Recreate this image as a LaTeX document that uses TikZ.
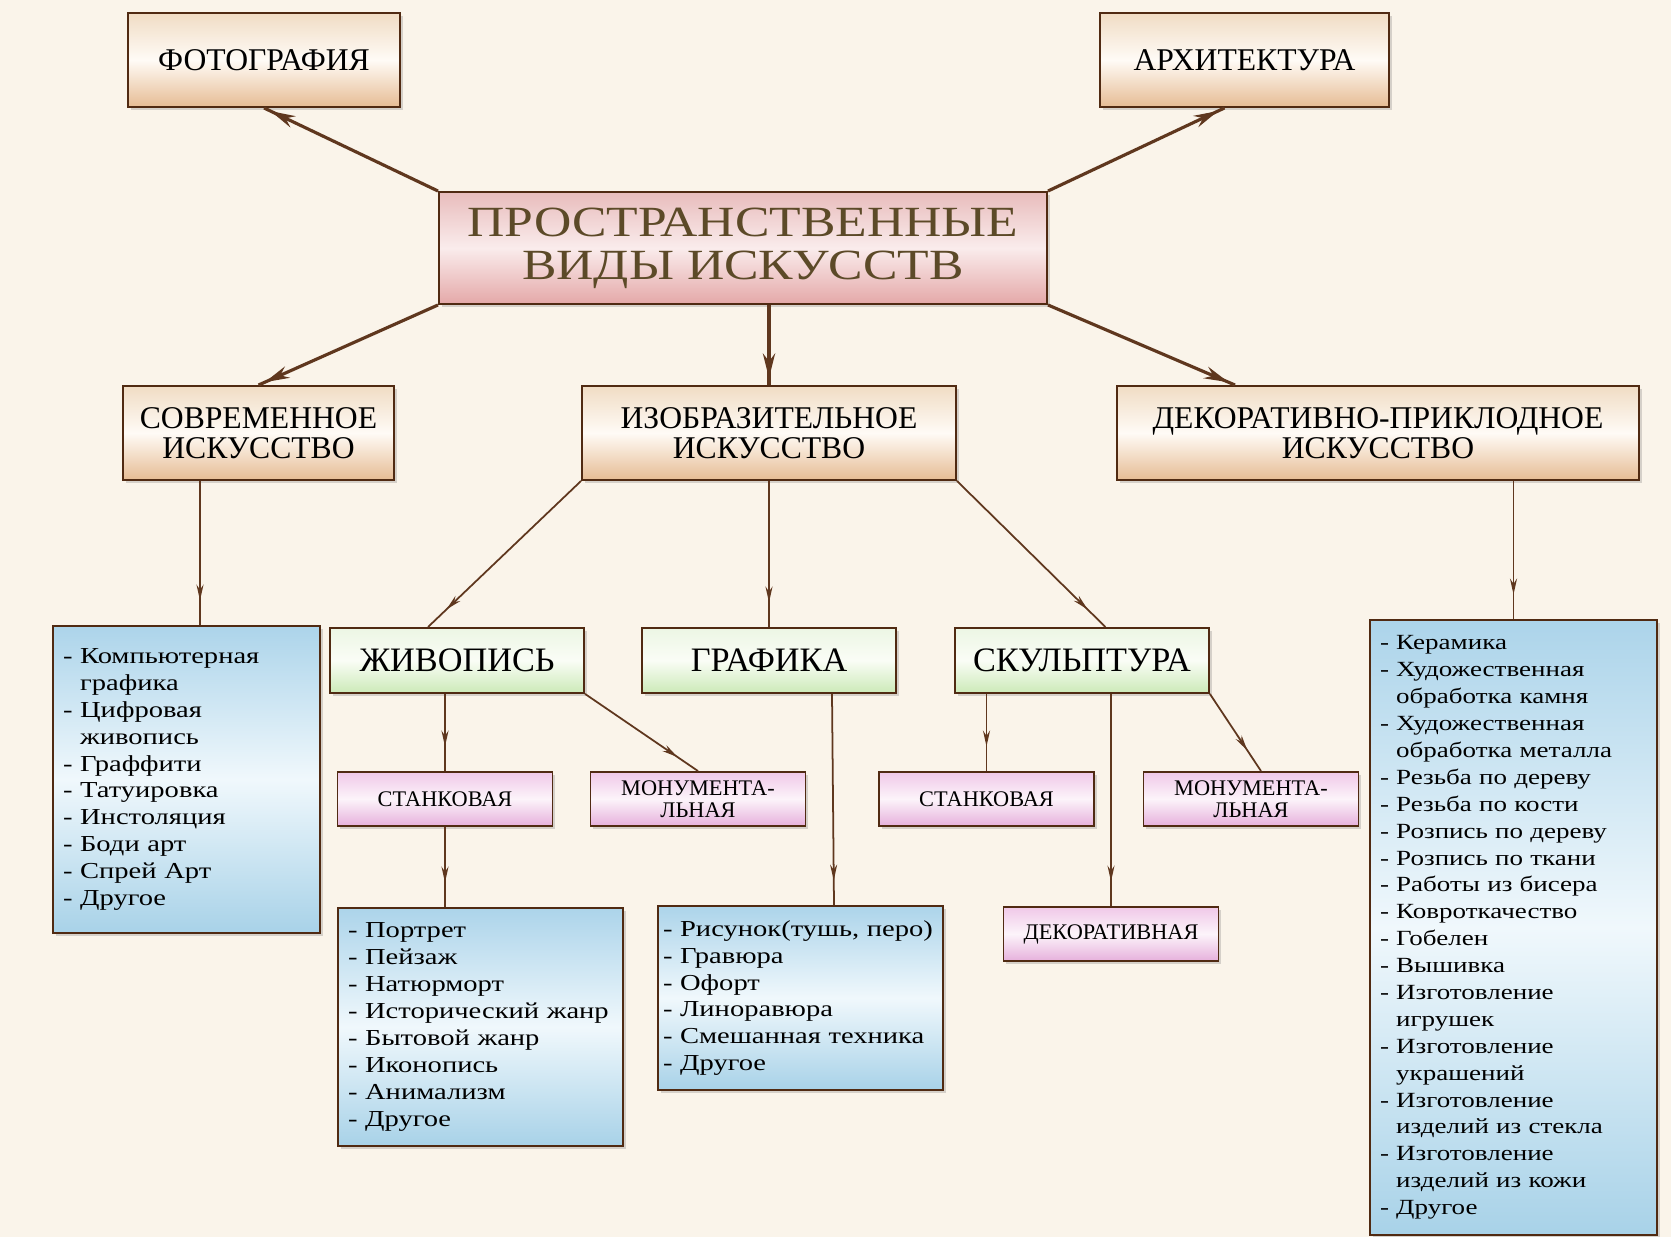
\documentclass[tikz,border=0pt]{standalone}
\usepackage{fontspec}
\setmainfont{Liberation Serif}
\newfontfamily\titlefont[FakeStretch=1.2]{Liberation Serif}
\newfontfamily\listfont[FakeStretch=1.25]{Liberation Serif}
\usepackage{tikz}
\usetikzlibrary{positioning,arrows.meta,decorations.markings,shadows}

\definecolor{bgcol}{RGB}{250,244,234}
\definecolor{edgecol}{RGB}{80,42,18}
\definecolor{linkcol}{RGB}{95,55,30}
\definecolor{titlecol}{RGB}{92,74,40}
\definecolor{tantop}{RGB}{240,220,196}
\definecolor{tanmid}{RGB}{255,251,246}
\definecolor{tanbot}{RGB}{230,188,148}
\definecolor{rosetop}{RGB}{232,188,188}
\definecolor{rosemid}{RGB}{250,236,236}
\definecolor{rosebot}{RGB}{228,168,168}
\definecolor{greentop}{RGB}{236,246,228}
\definecolor{greenmid}{RGB}{250,253,246}
\definecolor{greenbot}{RGB}{204,234,184}
\definecolor{liltop}{RGB}{240,200,232}
\definecolor{lilmid}{RGB}{252,244,250}
\definecolor{lilbot}{RGB}{230,176,220}
\definecolor{bluetop}{RGB}{172,212,234}
\definecolor{bluemid}{RGB}{240,248,252}
\definecolor{bluebot}{RGB}{168,210,232}

\begin{document}
\begin{tikzpicture}[
  box/.style={rectangle, draw=edgecol, line width=1.1pt, inner sep=0pt,
    drop shadow={opacity=0.3, shadow xshift=1.5pt, shadow yshift=-1.5pt}},
  tanbox/.style={box, top color=tantop, bottom color=tanbot, middle color=tanmid,
    align=center, minimum height=1.88cm, font=\fontsize{18}{17}\selectfont},
  rosebox/.style={box, top color=rosetop, bottom color=rosebot, middle color=rosemid,
    align=center, text=titlecol, font=\titlefont\fontsize{24.5}{24.3}\selectfont},
  greenbox/.style={box, top color=greentop, bottom color=greenbot, middle color=greenmid,
    minimum width=5.08cm, minimum height=1.3cm, font=\fontsize{19.5}{20}\selectfont},
  lilbox/.style={box, top color=liltop, bottom color=lilbot, middle color=lilmid,
    align=center, minimum width=4.3cm, minimum height=1.08cm, font=\fontsize{12.7}{12.7}\selectfont},
  listbox/.style={box, top color=bluetop, bottom color=bluebot, middle color=bluemid,
    align=left, inner xsep=0.2cm, font=\listfont\fontsize{13}{15.3}\selectfont},
  link/.style={color=linkcol, line width=1pt, postaction={decorate},
    decoration={markings, mark=at position -14pt with {\arrow{Stealth[length=9pt, width=4pt]}}}},
  biglink/.style={color=linkcol, line width=1.8pt, postaction={decorate},
    decoration={markings, mark=at position -4pt with {\arrow{Stealth[length=14pt, width=7pt]}}}}
]
\fill[bgcol] (0,0) rectangle (33.42,-24.74);
\useasboundingbox (0,0) rectangle (33.42,-24.74);

% top levels
\node[rosebox, minimum width=12.16cm, minimum height=2.24cm] (title) at (14.86,-4.96) {ПРОСТРАНСТВЕННЫЕ\\ВИДЫ ИСКУССТВ};
\node[tanbox, minimum width=5.44cm] (foto) at (5.28,-1.2) {ФОТОГРАФИЯ};
\node[tanbox, minimum width=5.78cm] (arch) at (24.89,-1.2) {АРХИТЕКТУРА};
\node[tanbox, minimum width=5.42cm] (sovr) at (5.17,-8.66) {СОВРЕМЕННОЕ\\ИСКУССТВО};
\node[tanbox, minimum width=7.48cm] (izo) at (15.38,-8.66) {ИЗОБРАЗИТЕЛЬНОЕ\\ИСКУССТВО};
\node[tanbox, minimum width=10.44cm] (dpi) at (27.56,-8.66) {ДЕКОРАТИВНО-ПРИКЛОДНОЕ\\ИСКУССТВО};

% kinds of fine art
\node[greenbox, below=2.92cm of izo] (graf) {ГРАФИКА};
\node[greenbox, left=1.12cm of graf] (zhiv) {ЖИВОПИСЬ};
\node[greenbox, right=1.14cm of graf] (skul) {СКУЛЬПТУРА};

\node[lilbox] (stank1) at (8.9,-15.98) {СТАНКОВАЯ};
\node[lilbox] (monu1) at (13.96,-15.98) {МОНУМЕНТА-\\ЛЬНАЯ};
\node[lilbox] (stank2) at (19.73,-15.98) {СТАНКОВАЯ};
\node[lilbox] (monu2) at (25.02,-15.98) {МОНУМЕНТА-\\ЛЬНАЯ};
\node[lilbox] (dekorat) at (22.22,-18.68) {ДЕКОРАТИВНАЯ};

% lists
\node[listbox, text width=4.94cm, minimum height=6.14cm] (sovrlist) at (3.73,-15.59)
  {- Компьютерная\\\hphantom{-\ }графика\\- Цифровая\\\hphantom{-\ }живопись\\- Граффити\\- Татуировка\\- Инстоляция\\- Боди арт\\- Спрей Арт\\- Другое};
\node[listbox, text width=5.3cm, minimum height=4.76cm] (zhivlist) at (9.61,-20.54)
  {- Портрет\\- Пейзаж\\- Натюрморт\\- Исторический жанр\\- Бытовой жанр\\- Иконопись\\- Анимализм\\- Другое};
\node[listbox, inner xsep=0.1cm, text width=5.5cm, minimum height=3.68cm] (graflist) at (16.01,-19.96)
  {- Рисунок(тушь,~перо)\\- Гравюра\\- Офорт\\- Линоравюра\\- Смешанная техника\\- Другое};
\node[listbox, text width=5.34cm, minimum height=12.3cm, font=\listfont\fontsize{12.3}{15.3}\selectfont] (dpilist) at (30.27,-18.55)
  {- Керамика\\- Художественная\\\hphantom{-\ }обработка камня\\- Художественная\\\hphantom{-\ }обработка металла\\- Резьба по дереву\\- Резьба по кости\\- Розпись по дереву\\- Розпись по ткани\\- Работы из бисера\\- Ковроткачество\\- Гобелен\\- Вышивка\\- Изготовление\\\hphantom{-\ }игрушек\\- Изготовление\\\hphantom{-\ }украшений\\- Изготовление\\\hphantom{-\ }изделий из стекла\\- Изготовление\\\hphantom{-\ }изделий из кожи\\- Другое};

% connectors
\draw[biglink] (title.north west) -- (foto.south);
\draw[biglink] (title.north east) -- ([xshift=-0.4cm]arch.south);
\draw[biglink] (title.south west) -- (sovr.north);
\draw[biglink] (title.south -| izo.north) -- (izo.north);
\draw[biglink] (title.south east) -- ([xshift=2.38cm]dpi.north west);

\draw[link] ([xshift=-1.17cm]sovr.south) -- ([xshift=0.27cm]sovrlist.north);
\draw[link] (izo.south west) -- ([xshift=-0.58cm]zhiv.north);
\draw[link] (izo.south) -- (izo.south |- graf.north);
\draw[link] (izo.south east) -- ([xshift=0.47cm]skul.north);
\draw[link] (dpi.south -| dpilist.north) -- (dpilist.north);
\draw[link] (zhiv.south -| stank1.north) -- (stank1.north);
\draw[link] (zhiv.south east) -- (monu1.north);
\draw[link] (stank1.south) -- (stank1.south |- zhivlist.north);
\draw[link] ([xshift=1.26cm]graf.south) -- ([xshift=0.67cm]graflist.north);
\draw[link] (skul.south -| stank2.north) -- (stank2.north);
\draw[link] (skul.south -| dekorat.north) -- (dekorat.north);
\draw[link] (skul.south east) -- ([xshift=0.2cm]monu2.north);
\end{tikzpicture}
\end{document}
